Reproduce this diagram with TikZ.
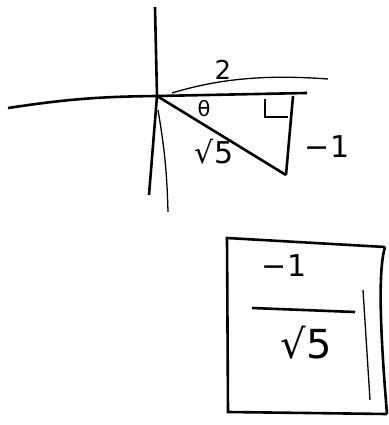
\documentclass[tikz,border=0pt]{standalone}
\usepackage{fontspec}
\setmainfont{DejaVu Sans}
\usetikzlibrary{calc,positioning}
\tikzset{
    line cap=round,
    line join=round,
    pen/.style={draw=black, line width=2.6pt},
    thinpen/.style={draw=black, line width=1.3pt},
    sketchlabel/.style={font=\fontsize{26}{30}\selectfont, inner sep=1pt},
    biglabel/.style={font=\fontsize{30}{34}\selectfont, inner sep=1pt}
}
\begin{document}
\begin{tikzpicture}[x=1pt, y=-1pt]
\useasboundingbox (0,0) rectangle (388,425);

% Axes
\coordinate (O) at (157,96);
\coordinate (xleft) at (8,108);
\coordinate (xright) at (307,93);
\coordinate (ytop) at (155,7);
\coordinate (ybot) at (149,195);
\coordinate (ymid) at (158,110);
\coordinate (ytail) at (168,212);
\draw[pen] (xleft) to[bend left=4] (O) -- (xright);
\draw[pen] (ytop) -- (O) -- (ybot);
\draw[thinpen] (ymid) to[bend left=4] (ytail);

% Triangle
\coordinate (corner) at (293,96);
\coordinate (tip) at (286,175);
\draw[pen] (O) -- (tip);
\draw[pen] (corner) -- (tip);
\coordinate (ra1) at (265,99);
\coordinate (ra2) at (265,117);
\coordinate (ra3) at (288,117);
\draw[thinpen] (ra1) -- (ra2) -- (ra3);

% Label arc for the adjacent side
\coordinate (arcstart) at (172,93);
\coordinate (arcend) at (328,79);
\draw[thinpen] (arcstart) .. controls (215,80) and (260,74) .. (arcend);

% Labels
\node[sketchlabel] (adj) at (223,70) {2};
\node[font=\fontsize{21}{24}\selectfont, inner sep=0pt] (ang) at (204,109) {θ};
\node[sketchlabel, font=\fontsize{30}{34}\selectfont] (hyp) at (214,152) {√5};
\node[biglabel] (opp) at (327,147) {−1};

% Answer box
\coordinate (btl) at (227,238);
\coordinate (btr) at (385,247);
\coordinate (bbr) at (387,414);
\coordinate (bbl) at (228,412);
\draw[pen] (btr) -- (btl) -- (bbl) -- (bbr);
\draw[pen] (btr) .. controls (378,270) and (380,330) .. (bbr);
\coordinate (dbltop) at (363,290);
\coordinate (dblbot) at (370,400);
\draw[thinpen] (dbltop) -- (dblbot);

\node[biglabel] (num) at (284,266) {−1};
\coordinate (barleft) at (252,308);
\coordinate (barright) at (355,312);
\draw[pen] (barleft) -- (barright);
\node[biglabel, font=\fontsize{40}{44}\selectfont] (den) at (306,343) {√5};
\end{tikzpicture}
\end{document}
